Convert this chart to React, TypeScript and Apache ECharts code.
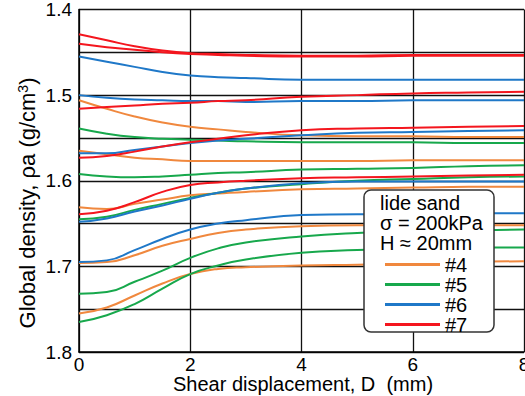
import React, { useEffect, useRef } from "react";
import * as echarts from "echarts";

// Shear displacement D (mm) at which each density trace is sampled
const DISPLACEMENT_MM = [0, 0.5, 1, 1.5, 2, 2.5, 3, 4, 5, 6, 7, 8];

// Global density ρa (g/cm³) traces, grouped by specimen
const SPECIMEN_4 = [
  [1.506, 1.516, 1.525, 1.532, 1.537, 1.540, 1.543, 1.547, 1.548, 1.548, 1.549, 1.549],
  [1.565, 1.569, 1.573, 1.575, 1.577, 1.577, 1.577, 1.577, 1.577, 1.576, 1.576, 1.576],
  [1.631, 1.633, 1.627, 1.622, 1.617, 1.615, 1.613, 1.610, 1.609, 1.608, 1.607, 1.607],
  [1.696, 1.695, 1.687, 1.676, 1.668, 1.661, 1.657, 1.653, 1.652, 1.652, 1.652, 1.652],
  [1.755, 1.748, 1.734, 1.720, 1.709, 1.703, 1.701, 1.699, 1.698, 1.697, 1.695, 1.694],
];
const SPECIMEN_5 = [
  [1.539, 1.545, 1.549, 1.551, 1.552, 1.553, 1.554, 1.555, 1.555, 1.555, 1.556, 1.556],
  [1.592, 1.595, 1.596, 1.595, 1.593, 1.591, 1.590, 1.587, 1.586, 1.585, 1.583, 1.582],
  [1.645, 1.642, 1.634, 1.627, 1.620, 1.614, 1.609, 1.604, 1.600, 1.598, 1.596, 1.595],
  [1.732, 1.730, 1.718, 1.705, 1.690, 1.679, 1.672, 1.665, 1.661, 1.659, 1.658, 1.657],
  [1.765, 1.757, 1.744, 1.726, 1.709, 1.699, 1.692, 1.684, 1.681, 1.679, 1.678, 1.678],
];
const SPECIMEN_6 = [
  [1.455, 1.461, 1.467, 1.473, 1.477, 1.479, 1.480, 1.482, 1.482, 1.482, 1.482, 1.482],
  [1.500, 1.503, 1.505, 1.506, 1.507, 1.507, 1.508, 1.507, 1.507, 1.506, 1.506, 1.506],
  [1.568, 1.568, 1.564, 1.560, 1.556, 1.553, 1.551, 1.547, 1.544, 1.543, 1.542, 1.541],
  [1.648, 1.644, 1.636, 1.629, 1.621, 1.614, 1.609, 1.603, 1.601, 1.601, 1.601, 1.601],
  [1.695, 1.693, 1.681, 1.668, 1.657, 1.650, 1.646, 1.640, 1.639, 1.639, 1.638, 1.638],
];
const SPECIMEN_7 = [
  [1.429, 1.436, 1.443, 1.448, 1.451, 1.452, 1.453, 1.454, 1.454, 1.453, 1.453, 1.453],
  [1.440, 1.444, 1.447, 1.450, 1.452, 1.453, 1.454, 1.455, 1.455, 1.454, 1.454, 1.454],
  [1.516, 1.514, 1.512, 1.510, 1.509, 1.507, 1.506, 1.502, 1.500, 1.498, 1.497, 1.496],
  [1.573, 1.571, 1.566, 1.560, 1.555, 1.551, 1.547, 1.541, 1.539, 1.538, 1.537, 1.536],
  [1.639, 1.635, 1.625, 1.613, 1.605, 1.602, 1.600, 1.597, 1.596, 1.595, 1.594, 1.593],
];

const SPECIMEN_NAMES = ["#4", "#5", "#6", "#7"];
const SPECIMEN_COLORS = ["#F0883E", "#17A84C", "#1F78C8", "#F4161E"];
const SPECIMEN_TRACES = [SPECIMEN_4, SPECIMEN_5, SPECIMEN_6, SPECIMEN_7];

const LEGEND_HEADER = ["lide sand", "σ = 200kPa", "H ≈ 20mm"];

const FONT = "'Liberation Sans', Arial, sans-serif";

export default function App() {
  const ref = useRef<HTMLDivElement>(null);

  useEffect(() => {
    if (!ref.current) return;
    const chart = echarts.init(ref.current, null, { renderer: "svg" });

    const series: any[] = [];
    SPECIMEN_TRACES.forEach((traces, gi) => {
      traces.forEach((vals) => {
        series.push({
          type: "line",
          name: SPECIMEN_NAMES[gi],
          data: DISPLACEMENT_MM.map((x, i) => [x, vals[i]]),
          smooth: 0.5,
          showSymbol: false,
          symbol: "none",
          silent: true,
          lineStyle: { width: 2, color: SPECIMEN_COLORS[gi] },
          itemStyle: { color: SPECIMEN_COLORS[gi] },
          z: 2,
        });
      });
    });

    const headerTexts = LEGEND_HEADER.map((t, i) => ({
      type: "text",
      x: 380,
      y: 203 + i * 20,
      z: 11,
      silent: true,
      style: {
        text: t,
        fontSize: 20,
        fontFamily: FONT,
        fill: "#000",
        align: "left",
        verticalAlign: "middle",
      },
    }));

    chart.setOption({
      animation: false,
      backgroundColor: "#fff",
      grid: {
        left: 79,
        top: 9.5,
        right: 1,
        bottom: 44,
        outerBoundsMode: "none",
        containLabel: false,
      },
      xAxis: {
        type: "value",
        min: 0,
        max: 8,
        interval: 2,
        axisLine: { show: true, lineStyle: { color: "#000", width: 1.5 } },
        axisTick: { show: false },
        axisLabel: { fontSize: 19, fontFamily: FONT, color: "#000", margin: 3 },
        splitLine: { show: true, lineStyle: { color: "#111", width: 1.3 } },
      },
      yAxis: {
        type: "value",
        inverse: true,
        min: 1.4,
        max: 1.8,
        interval: 0.05,
        axisLine: { show: true, lineStyle: { color: "#000", width: 1.5 } },
        axisTick: { show: false },
        axisLabel: {
          fontSize: 19,
          fontFamily: FONT,
          color: "#000",
          margin: 7,
          formatter: (v: number) =>
            Math.abs(v * 10 - Math.round(v * 10)) < 1e-6 ? v.toFixed(1) : "",
        },
        splitLine: { show: true, lineStyle: { color: "#111", width: 1.3 } },
      },
      legend: {
        data: SPECIMEN_NAMES,
        orient: "vertical",
        left: 385,
        top: 254.5,
        padding: 0,
        itemGap: 0,
        itemWidth: 55,
        itemHeight: 3,
        icon: "rect",
        selectedMode: false,
        z: 12,
        textStyle: {
          fontSize: 20,
          fontFamily: FONT,
          color: "#000",
          lineHeight: 18.3,
        },
      },
      graphic: [
        {
          type: "rect",
          z: 10,
          silent: true,
          shape: { x: 364, y: 190, width: 130, height: 142, r: 7 },
          style: { fill: "#fff", stroke: "#333", lineWidth: 1.5 },
        },
        ...headerTexts,
        {
          type: "text",
          x: 303,
          y: 384,
          silent: true,
          style: {
            text: "Shear displacement, D  (mm)",
            fontSize: 20,
            fontFamily: FONT,
            fill: "#000",
            align: "center",
            verticalAlign: "middle",
          },
        },
        {
          type: "text",
          x: 27,
          y: 203,
          rotation: Math.PI / 2,
          silent: true,
          style: {
            text: "Global density, ρa (g/cm{sup|3})",
            fontSize: 22,
            fontFamily: FONT,
            fill: "#000",
            align: "center",
            verticalAlign: "middle",
            rich: {
              sup: {
                fontSize: 14,
                fontFamily: FONT,
                fill: "#000",
                verticalAlign: "top",
                lineHeight: 14,
              },
            },
          },
        },
      ],
      series,
    });

    return () => chart.dispose();
  }, []);

  return (
    <div
      ref={ref}
      style={{ position: "fixed", left: 0, top: 0, width: 525, height: 396 }}
    />
  );
}
